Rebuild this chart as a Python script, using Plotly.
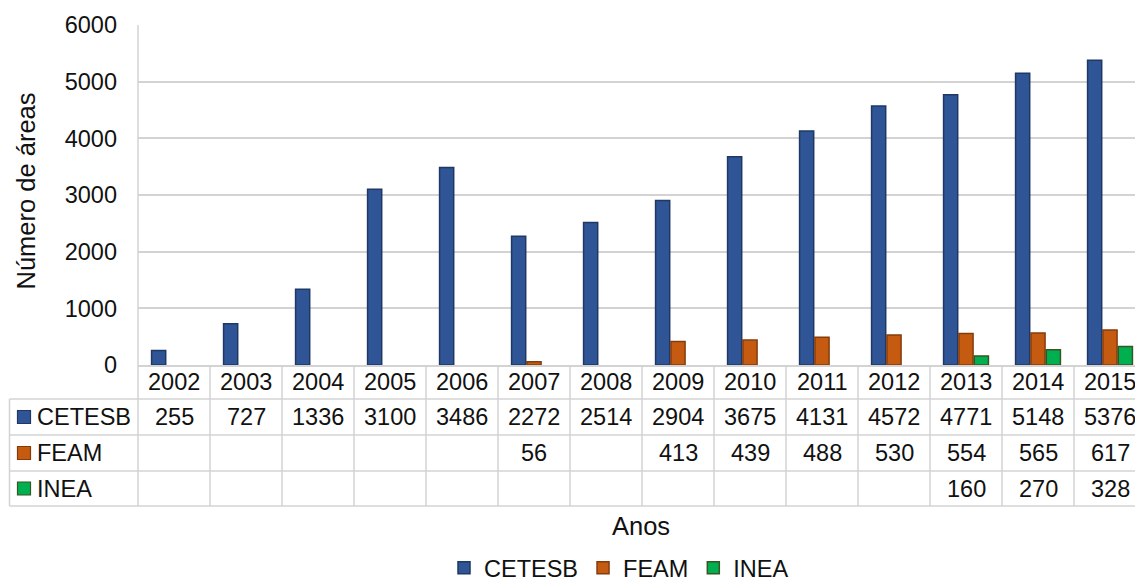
import plotly.graph_objects as go

years = ["2002", "2003", "2004", "2005", "2006", "2007", "2008",
         "2009", "2010", "2011", "2012", "2013", "2014", "2015"]
cetesb = [255, 727, 1336, 3100, 3486, 2272, 2514, 2904, 3675, 4131, 4572, 4771, 5148, 5376]
feam = [None, None, None, None, None, 56, None, 413, 439, 488, 530, 554, 565, 617]
inea = [None, None, None, None, None, None, None, None, None, None, None, 160, 270, 328]

series = [
    ("CETESB", cetesb, "#2F5597", "#1F3864"),
    ("FEAM", feam, "#C55A11", "#843C0C"),
    ("INEA", inea, "#00B050", "#375623"),
]

# The page body has an 8px margin, so the figure starts at (8, 8) in the window.
OFF = 8
WIN_W, WIN_H = 1143, 581
W, H = WIN_W - OFF, WIN_H - OFF
P_LEFT, P_TOP, P_BOTTOM, P_RIGHT = 138, 25, 365, WIN_W
ML, MT = P_LEFT - OFF, P_TOP - OFF
MB = WIN_H - P_BOTTOM
MR = 0
PW = P_RIGHT - P_LEFT
PH = P_BOTTOM - P_TOP
COLW = 72.0

def py(p):
    return (P_BOTTOM - p) / PH

def px(p):
    return (p - P_LEFT) / PW

FONT = "Liberation Sans, Arial, sans-serif"
TXT = "#111111"
GRID = "#d3d3d3"
FS = 23.5
TFS = 25.5

fig = go.Figure()
for name, vals, fill, edge in series:
    fig.add_trace(go.Bar(
        name=name, x=years, y=vals,
        marker=dict(color=fill, line=dict(color=edge, width=1.5)),
    ))

shapes = []
annotations = []

row_lines = [399, 435, 471, 506]
row_centers = [417, 453, 488.5]
left_edge = 9.5

for r in row_lines:
    shapes.append(dict(type="line", xref="paper", yref="paper",
                       x0=px(left_edge), x1=1, y0=py(r), y1=py(r),
                       line=dict(color=GRID, width=1.5)))
shapes.append(dict(type="line", xref="paper", yref="paper",
                   x0=px(left_edge), x1=px(left_edge), y0=py(399), y1=py(506),
                   line=dict(color=GRID, width=1.5)))
shapes.append(dict(type="line", xref="paper", yref="paper",
                   x0=0, x1=0, y0=py(506), y1=1,
                   line=dict(color=GRID, width=1.5)))
for i in range(1, len(years) + 1):
    shapes.append(dict(type="line", xref="x", yref="paper",
                       x0=i - 0.5, x1=i - 0.5, y0=py(506), y1=0,
                       line=dict(color=GRID, width=1.5)))

for i, yv in enumerate(years):
    annotations.append(dict(x=i, xref="x", y=py(382), yref="paper",
                            text=yv, showarrow=False, xanchor="center", yanchor="middle",
                            font=dict(size=FS, color=TXT, family=FONT)))

for (name, vals, fill, edge), rc in zip(series, row_centers):
    shapes.append(dict(type="rect", xref="paper", yref="paper",
                       x0=px(17.5), x1=px(30.5), y0=py(rc + 6.5), y1=py(rc - 6.5),
                       fillcolor=fill, line=dict(color=edge, width=1.2)))
    annotations.append(dict(x=px(35), xref="paper", y=py(rc), yref="paper",
                            text=name, showarrow=False, xanchor="left", yanchor="middle",
                            font=dict(size=FS, color=TXT, family=FONT)))
    for i, v in enumerate(vals):
        if v is None:
            continue
        annotations.append(dict(x=i, xref="x", y=py(rc), yref="paper",
                                text=str(v), showarrow=False, xanchor="center", yanchor="middle",
                                font=dict(size=FS, color=TXT, family=FONT)))

annotations.append(dict(x=px(25), xref="paper", y=py(191.5), yref="paper",
                        text="Número de áreas", textangle=-90, showarrow=False,
                        xanchor="center", yanchor="middle",
                        font=dict(size=TFS, color=TXT, family=FONT)))
annotations.append(dict(x=px(641), xref="paper", y=py(526), yref="paper",
                        text="Anos", showarrow=False, xanchor="center", yanchor="middle",
                        font=dict(size=TFS, color=TXT, family=FONT)))

fig.update_layout(
    width=W, height=H,
    margin=dict(l=ML, r=MR, t=MT, b=MB, autoexpand=False),
    paper_bgcolor="white", plot_bgcolor="white",
    barmode="group", bargap=0.36, bargroupgap=0.08,
    font=dict(family=FONT, size=FS, color=TXT),
    showlegend=True,
    legend=dict(orientation="h", x=px(619), xanchor="center", y=py(568), yanchor="middle",
                font=dict(size=FS, color=TXT, family=FONT), bgcolor="rgba(0,0,0,0)",
                itemwidth=30),
    shapes=shapes, annotations=annotations,
)
fig.update_xaxes(type="category", range=[-0.5, -0.5 + PW / COLW],
                 showticklabels=False, ticks="", showgrid=False, zeroline=False,
                 showline=True, linecolor=GRID, linewidth=1.5, fixedrange=True)
fig.update_yaxes(range=[0, 6000], dtick=1000, tick0=0, showgrid=True, gridcolor=GRID,
                 gridwidth=1.5, zeroline=False, showline=False, ticks="",
                 ticklabelstandoff=20, tickfont=dict(size=FS, color=TXT, family=FONT),
                 fixedrange=True)

fig.write_html("out.html")
